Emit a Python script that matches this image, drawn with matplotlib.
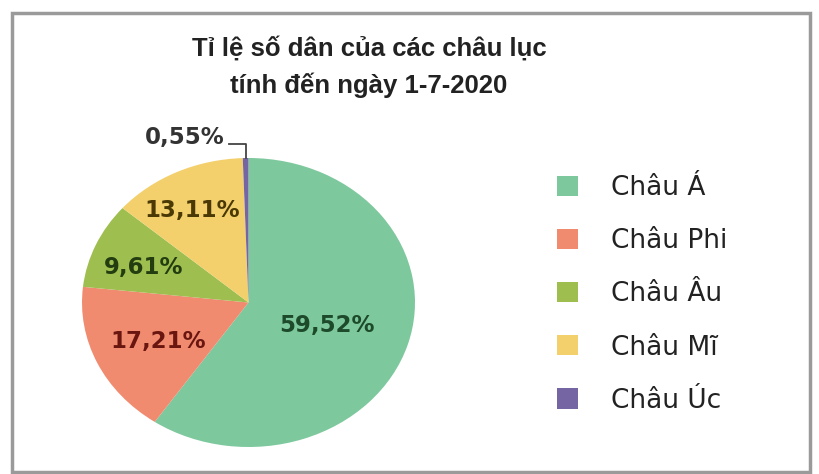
import matplotlib
matplotlib.use("Agg")
import matplotlib.pyplot as plt
from matplotlib.patches import Patch, Rectangle
import numpy as np

# ---- data ----
title_lines = ["Tỉ lệ số dân của các châu lục", "tính đến ngày 1-7-2020"]
continents = ["Châu Á", "Châu Phi", "Châu Âu", "Châu Mĩ", "Châu Úc"]
shares = [59.52, 17.21, 9.61, 13.11, 0.55]

# ---- style ----
colors = ["#7dc89d", "#f18b70", "#9ebf50", "#f3d06c", "#7566a3"]
label_colors = ["#1d4a2a", "#6a1610", "#233d10", "#4a3905", "#333333"]
# label positions in pie-axes units (radius = 1)
label_pos = [(0.47, -0.16), (-0.54, -0.27), (-0.63, 0.24), (-0.34, 0.64), (-0.38, 1.14)]

W, H = 819, 474
fig = plt.figure(figsize=(W / 100, H / 100), dpi=100)
fig.patch.set_facecolor("white")

def px(x0, y0, w, h):
    return [x0 / W, 1 - (y0 + h) / H, w / W, h / H]

ax = fig.add_axes(px(82, 158, 333, 289))
wedges, _ = ax.pie(shares, colors=colors, startangle=90, counterclock=False,
                   wedgeprops=dict(linewidth=0))
ax.set_aspect("auto")
ax.set_xlim(-1, 1)
ax.set_ylim(-1, 1)
ax.axis("off")

for v, (lx, ly), c in zip(shares, label_pos, label_colors):
    s = f"{v:.2f}".replace(".", ",") + "%"
    ax.text(lx, ly, s, ha="center", va="center", fontsize=16.5, fontweight="bold",
            color=c, family="DejaVu Sans", clip_on=False)

# leader line for the small slice
w = wedges[-1]
mid = np.deg2rad((w.theta1 + w.theta2) / 2)
mx, my = np.cos(mid), np.sin(mid)
ax.plot([-0.115, mx, mx], [1.10, 1.10, my], color="#444444", lw=1.3, clip_on=False)

# title
tfont = ["Liberation Sans", "DejaVu Sans"]
fig.text(369 / W, 1 - 48 / H, title_lines[0], ha="center", va="center",
         fontsize=18.5, fontweight="bold", family=tfont, color="#222222")
fig.text(369 / W, 1 - 85 / H, title_lines[1], ha="center", va="center",
         fontsize=18.5, fontweight="bold", family=tfont, color="#222222")

# legend
handles = [Patch(facecolor=c, edgecolor="none") for c in colors]
fig.legend(handles, continents, loc="upper left", bbox_to_anchor=(557 / W, 1 - 175 / H),
           frameon=False, borderpad=0, borderaxespad=0, handlelength=0.8, handleheight=0.8,
           handletextpad=1.25, labelspacing=1.03,
           prop=dict(family="DejaVu Sans", size=19), labelcolor="#222222")

# frame
fig.add_artist(Rectangle((12 / W, 1 - 472 / H), 798 / W, 459 / H, transform=fig.transFigure,
                         fill=False, edgecolor="#9a9a9a", lw=2.5))

fig.savefig("out.png", dpi=100, facecolor="white")
